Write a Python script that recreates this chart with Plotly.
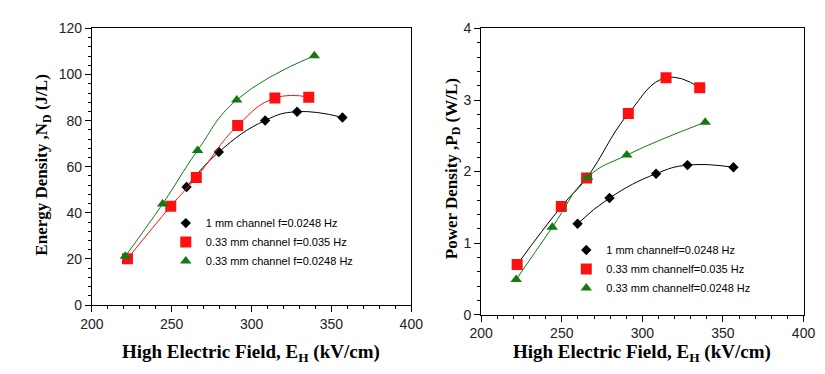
import plotly.graph_objects as go

# ---- data ----
labels = ["1 mm channel f=0.0248 Hz", "0.33 mm channel f=0.035 Hz", "0.33 mm channel f=0.0248 Hz"]
labels_r = ["1 mm channelf=0.0248 Hz", "0.33 mm channelf=0.035 Hz", "0.33 mm channelf=0.0248 Hz"]

e_black_x = [259.3, 279.5, 308.5, 328.5, 356.9]
e_black_y = [51.2, 66.4, 80.1, 83.9, 81.4]
e_red_x = [222.3, 249.4, 265.4, 291.3, 314.6, 335.8]
e_red_y = [20.1, 42.9, 55.4, 77.9, 89.8, 90.2]
e_green_x = [221.0, 244.3, 266.2, 290.7, 339.3]
e_green_y = [21.2, 43.9, 67.1, 89.0, 108.2]

p_black_x = [259.8, 279.6, 308.5, 328.0, 356.5]
p_black_y = [1.27, 1.63, 1.97, 2.09, 2.06]
p_red_x = [222.3, 249.7, 265.4, 291.3, 314.7, 335.6]
p_red_y = [0.70, 1.51, 1.91, 2.81, 3.31, 3.17]
p_green_x = [221.7, 244.1, 266.0, 290.3, 339.0]
p_green_y = [0.49, 1.22, 1.92, 2.23, 2.69]

x_ticks = [200, 250, 300, 350, 400]
e_ticks = [0, 20, 40, 60, 80, 100, 120]
p_ticks = [0, 1, 2, 3, 4]

BLACK = "#000000"
RED = "#ff1010"
GREEN = "#127a12"

fig = go.Figure()

def add_series(x, y, xa, ya, line_color, mcolor, symbol, size, name, legend):
    fig.add_trace(go.Scatter(x=x, y=y, mode="lines", line=dict(color=line_color, width=1, shape="spline", smoothing=1.3),
                             xaxis=xa, yaxis=ya, showlegend=False, hoverinfo="skip"))
    fig.add_trace(go.Scatter(x=x, y=y, mode="markers", marker=dict(color=mcolor, symbol=symbol, size=size, line=dict(width=0)),
                             xaxis=xa, yaxis=ya, name=name, legend=legend))

add_series(e_black_x, e_black_y, "x", "y", BLACK, BLACK, "diamond", 8, labels[0], "legend")
add_series(e_red_x, e_red_y, "x", "y", RED, RED, "square", 11, labels[1], "legend")
add_series(e_green_x, e_green_y, "x", "y", GREEN, GREEN, "triangle-up", 10, labels[2], "legend")

add_series(p_black_x, p_black_y, "x2", "y2", BLACK, BLACK, "diamond", 8, labels_r[0], "legend2")
add_series(p_red_x, p_red_y, "x2", "y2", BLACK, RED, "square", 11, labels_r[1], "legend2")
add_series(p_green_x, p_green_y, "x2", "y2", GREEN, GREEN, "triangle-up", 10, labels_r[2], "legend2")

tickfont = dict(family="Liberation Sans, Arial", size=14, color="#222")
axcommon = dict(showline=True, linecolor="black", linewidth=1, mirror=True, ticks="outside", ticklen=6,
                tickcolor="black", showgrid=False, zeroline=False, tickfont=tickfont)

fig.update_layout(
    width=825, height=374, margin=dict(l=0, r=0, t=0, b=0),
    paper_bgcolor="white", plot_bgcolor="white",
    xaxis=dict(domain=[0.0897, 0.4885], range=[200, 400], tickvals=x_ticks, anchor="y",
               minor=dict(dtick=10, ticks="outside", ticklen=3, tickcolor="black"), **axcommon),
    yaxis=dict(domain=[0.1925, 0.9652], range=[0, 120], tickvals=e_ticks, anchor="x",
               minor=dict(dtick=4, ticks="outside", ticklen=3, tickcolor="black"), **axcommon),
    xaxis2=dict(domain=[0.5758, 0.9782], range=[200, 400], tickvals=x_ticks, anchor="y2",
                minor=dict(dtick=10, ticks="outside", ticklen=3, tickcolor="black"), **axcommon),
    yaxis2=dict(domain=[0.1658, 0.9652], range=[0, 4], tickvals=p_ticks, anchor="x2",
                minor=dict(dtick=0.2, ticks="outside", ticklen=3, tickcolor="black"), **axcommon),
    legend=dict(x=0.182, y=0.462, xanchor="left", yanchor="top", bgcolor="rgba(0,0,0,0)",
                font=dict(family="Liberation Sans, Arial", size=11, color="black"), itemwidth=30,
                tracegroupgap=0),
    legend2=dict(x=0.682, y=0.387, xanchor="left", yanchor="top", bgcolor="rgba(0,0,0,0)",
                 font=dict(family="Liberation Sans, Arial", size=11, color="black"), itemwidth=30,
                 tracegroupgap=0),
)

xtitlefont = dict(family="Liberation Serif, Times New Roman", size=19, color="black")
ytitlefont = dict(family="Liberation Serif, Times New Roman", size=17, color="black")
ann = [
    dict(text="<b>High Electric Field, E<sub>H</sub> (kV/cm)</b>", x=238, y=352, f=xtitlefont),
    dict(text="<b>High Electric Field, E<sub>H</sub> (kV/cm)</b>", x=641, y=352, f=xtitlefont),
    dict(text="<b>Energy Density ,N<sub>D</sub> (J/L)</b>", x=24, y=156, textangle=-90, f=ytitlefont),
    dict(text="<b>Power Density ,P<sub>D</sub> (W/L)</b>", x=446, y=160, textangle=-90, f=ytitlefont),
]
for a in ann:
    fig.add_annotation(text=a["text"], x=a["x"] / 825, y=1 - a["y"] / 374, xref="paper", yref="paper",
                       xanchor="center", yanchor="middle", showarrow=False, font=a["f"],
                       textangle=a.get("textangle", 0))

fig.write_html("out.html")
